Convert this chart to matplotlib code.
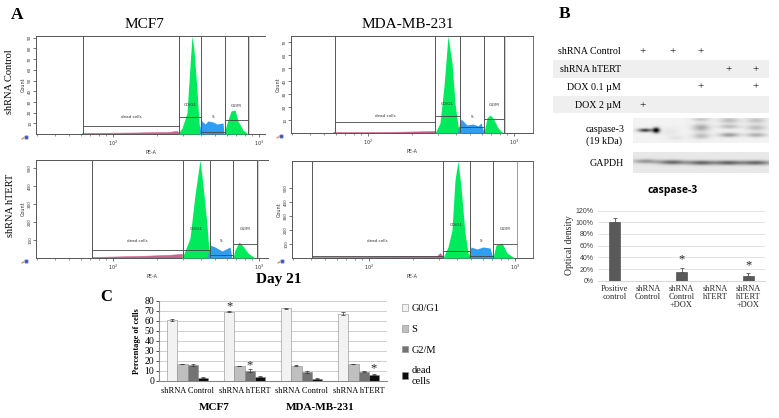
import numpy as np
import matplotlib
matplotlib.use('Agg')
import matplotlib.pyplot as plt
from matplotlib.patches import Rectangle

plt.rc('font', family='Liberation Serif')

W, H = 779, 418

# ---- panel A: flow cytometry histograms
# (x and y are in pixels from the lower left corner of each plot)
flow_names = ['mcf7_ctrl', 'mda_ctrl', 'mcf7_htert', 'mda_htert']
flow_boxes = {'mcf7_ctrl': (36, 36, 265, 134), 'mda_ctrl': (291, 36, 533, 133),
              'mcf7_htert': (36, 160, 268, 258), 'mda_htert': (292, 161, 533, 258)}
flow_yticks = {'mcf7_ctrl': [10, 20, 30, 40, 50, 60, 70, 80, 90], 'mda_ctrl': [10, 20, 30, 40, 50, 60, 70],
               'mcf7_htert': [100, 200, 300, 400, 500], 'mda_htert': [100, 200, 300, 400, 500]}
flow_ystep = {'mcf7_ctrl': 1.07, 'mda_ctrl': 1.3, 'mcf7_htert': 0.18, 'mda_htert': 0.14}

g1_x = {'mcf7_ctrl': [142, 146, 151, 154, 156, 158, 161, 163, 165],
        'mda_ctrl': [144, 149, 153, 157, 161, 164, 167, 170],
        'mcf7_htert': [146, 149, 154, 159, 164, 167, 171, 173, 175],
        'mda_htert': [151, 156, 160, 163, 166, 169, 173, 176, 178]}
g1_y = {'mcf7_ctrl': [0, 6, 21, 68, 98, 84, 44, 11, 0],
        'mda_ctrl': [0, 10, 47, 97, 70, 30, 7, 0],
        'mcf7_htert': [0, 7, 20, 63, 98, 73, 33, 7, 0],
        'mda_htert': [0, 11, 28, 78, 97, 71, 25, 5, 0]}
s_x = {'mcf7_ctrl': [163, 165, 169, 172, 177, 181, 187, 188],
       'mda_ctrl': [166, 170, 176, 182, 187, 190, 193],
       'mcf7_htert': [171, 174, 179, 186, 194, 196],
       'mda_htert': [176, 179, 185, 191, 198, 201]}
s_y = {'mcf7_ctrl': [0, 14, 10, 13, 12, 10, 11, 0],
       'mda_ctrl': [0, 14, 8, 9, 7, 10, 0],
       'mcf7_htert': [0, 13, 11, 7, 11, 0],
       'mda_htert': [0, 11, 9, 11, 10, 0]}
g2_x = {'mcf7_ctrl': [188, 191, 195, 199, 202, 207, 212],
        'mda_ctrl': [193, 196, 199, 202, 207, 212],
        'mcf7_htert': [197, 199, 203, 207, 212, 219],
        'mda_htert': [201, 204, 210, 215, 221, 222]}
g2_y = {'mcf7_ctrl': [0, 11, 23, 24, 13, 4, 0],
        'mda_ctrl': [0, 15, 18, 15, 5, 0],
        'mcf7_htert': [0, 8, 16, 12, 5, 0],
        'mda_htert': [0, 13, 15, 5, 1, 0]}
dead_x = {'mcf7_ctrl': [46, 97, 131, 141, 143],
          'mda_ctrl': [42, 90, 120, 144],
          'mcf7_htert': [56, 100, 130, 146],
          'mda_htert': [20, 90, 145, 148, 151]}
dead_y = {'mcf7_ctrl': [1, 1.5, 2, 3, 1],
          'mda_ctrl': [1, 1, 1.5, 2],
          'mcf7_htert': [1, 2, 3, 4],
          'mda_htert': [1, 1.5, 2, 5, 1]}
# gate edges: dead start, G0/G1 start, S start, G2/M start, G2/M end
gate_edges = {'mcf7_ctrl': [47, 143, 165, 188.5, 212],
              'mda_ctrl': [44, 144, 169, 193, 213],
              'mcf7_htert': [56, 147, 174, 197, 221],
              'mda_htert': [20, 151, 178, 201, 225]}
# height of the horizontal bar of dead, G0/G1, S, G2/M
gate_levels = {'mcf7_ctrl': [8, 17, 2, 14],
               'mda_ctrl': [11, 17, 6, 14],
               'mcf7_htert': [8, 8, 3, 14],
               'mda_htert': [2, 7, 2, 14]}
# height of the dead, G0/G1, S, G2/M labels
gate_text_y = {'mcf7_ctrl': [17, 29, 17, 28],
               'mda_ctrl': [17, 29, 16, 28],
               'mcf7_htert': [17, 29, 17, 29],
               'mda_htert': [17, 33, 17, 29]}
gate_names = ['dead cells', 'G0/G1', 'S', 'G2/M']
decade_labels = ['$10^2$', '$10^3$']
decade_pos = [77, 223]

# ---- panel B table and bars
table_rows = ['shRNA Control', 'shRNA hTERT', 'DOX 0.1 µM', 'DOX 2 µM']
table_marks = [[0, 1, 2], [3, 4], [2, 4], [0]]
od_labels = ['Positive\ncontrol', 'shRNA\nControl', 'shRNA\nControl\n+DOX', 'shRNA\nhTERT', 'shRNA\nhTERT\n+DOX']
od_values = [100, 0, 15, 0, 8]
od_errors = [8, 0, 6, 0, 5]
od_stars = [2, 4]
od_star_y = [37, 27]
od_ticks = [0, 20, 40, 60, 80, 100, 120]

# western blot bands: x, y, sigma x, sigma y, strength (pixels in the picture)
casp_bands = [(645, 130.5, 5, 1.2, .75), (656, 130.5, 2.5, 1.8, 1.0), (670, 132, 6, 3, .05), (676, 138, 6, 1.5, .06),
              (701, 120, 6, 1.5, .18), (701, 128, 6, 2.5, .3), (701, 136, 6, 2, .22),
              (729, 121, 7, 2, .22), (729, 127, 7, 1.5, .22), (729, 135, 7, 1.5, .35),
              (756, 121, 7, 2, .2), (756, 128, 7, 2, .22), (756, 135, 7, 1.5, .28)]
gapdh_bands = [(645, 161, 9, 1.5, .35), (672, 162, 10, 1.6, .55), (701, 162.5, 10, 1.6, .55),
               (728, 162.5, 10, 1.6, .55), (756, 162.5, 11, 1.6, .55)]

# ---- panel C
cell_groups = ['shRNA Control', 'shRNA hTERT', 'shRNA Control', 'shRNA hTERT']
phases = ['G0/G1', 'S', 'G2/M', 'dead\ncells']
g0_vals = [61.5, 69.5, 73, 67.5]
s_vals = [17, 15, 15.5, 17]
g2_vals = [16, 10.5, 9, 9.5]
dead_vals = [3.5, 4.5, 2.5, 6.5]
g0_err = [1, .8, .5, 1.2]
s_err = [.3, .3, .3, .3]
g2_err = [.6, 1.2, 1.2, .6]
dead_err = [.4, .9, .7, .4]
phase_colors = ['#f2f2f2', '#bfbfbf', '#737373', '#0d0d0d']
c_stars = [(1, 0, 75), (1, 2, 16), (3, 3, 13)]


def add_axes_px(fig, left, top, right, bottom):
    return fig.add_axes([left / W, 1 - bottom / H, (right - left) / W, (bottom - top) / H])


def plot_flow(fig, name):
    left, top, right, bottom = flow_boxes[name]
    ax = add_axes_px(fig, left, top, right, bottom)
    ax.fill_between(dead_x[name], dead_y[name], color='#c8648c', lw=0.4, zorder=2)
    ax.fill_between(g1_x[name], g1_y[name], color='#00ea5c', lw=0, zorder=3)
    ax.fill_between(s_x[name], s_y[name], color='#2f9df0', lw=0, zorder=4)
    ax.fill_between(g2_x[name], g2_y[name], color='#00ea5c', lw=0, zorder=3)

    e = gate_edges[name]
    lv = gate_levels[name]
    ax.vlines(e, 0, bottom - top, color='#555555', lw=0.7, zorder=5)
    ax.vlines(e[4] + 0.5, 0, bottom - top, color='#bbbbbb', lw=0.5, zorder=5)
    for i in range(4):
        ax.hlines(lv[i], e[i], e[i + 1], color='#444444', lw=0.6, zorder=5)
        mid = (e[i] + e[i + 1]) / 2
        ax.text(mid, gate_text_y[name][i], gate_names[i], fontsize=3, ha='center', va='center',
                family='DejaVu Sans', color='#333333', zorder=6)

    for s in ['top', 'left', 'bottom']:
        ax.spines[s].set_linewidth(0.7)
        ax.spines[s].set_color('#555555')
    ax.spines['right'].set_visible(name in ['mda_ctrl', 'mda_htert'])
    ax.spines['right'].set_linewidth(0.6)
    ax.spines['right'].set_color('#555555')

    ax.set_xticks(decade_pos)
    ax.set_xticklabels(decade_labels, fontsize=3.5, family='DejaVu Sans', color='#333333')
    minor = [decade_pos[0] + 146 * np.log10(k / 100) for k in [20, 30, 40, 50, 60, 70, 80, 90, 200, 300, 400, 500, 600, 700, 800, 900]]
    ax.set_xticks(minor, minor=True)
    ax.tick_params(axis='x', which='major', length=2.5, width=0.5, pad=1, color='#444444')
    ax.tick_params(axis='x', which='minor', length=1.2, width=0.4, color='#444444')
    yt = flow_yticks[name]
    ax.set_yticks([v * flow_ystep[name] for v in yt])
    ax.set_yticklabels([str(v) for v in yt], fontsize=3, rotation=90, va='center', family='DejaVu Sans', color='#333333')
    ax.tick_params(axis='y', length=2, width=0.5, pad=0.8, color='#444444')
    ax.set_xlabel('PE-A', fontsize=3.5, family='DejaVu Sans', labelpad=1.5, color='#333333')
    ax.set_ylabel('Count', fontsize=3.5, family='DejaVu Sans', labelpad=1.5, color='#333333')
    # ticks move the limits, so set them last
    ax.set_xlim(0, right - left)
    ax.set_ylim(0, bottom - top)
    return ax


def blot_image(ax, x0, x1, y0, y1, bg, bands):
    xs, ys = np.meshgrid(np.arange(x0, x1, 0.5), np.arange(y0, y1, 0.5))
    dark = np.zeros_like(xs, dtype=float)
    for bx, by, sx, sy, amp in bands:
        dark += amp * np.exp(-((xs - bx) / sx) ** 2 / 2 - ((ys - by) / sy) ** 2 / 2)
    img = np.clip(bg * (1 - np.clip(dark, 0, 1)), 0, 1)
    ax.imshow(img, cmap='gray', vmin=0, vmax=1, extent=(x0, x1, y1, y0), aspect='auto', interpolation='bilinear')
    ax.axis('off')


fig = plt.figure(figsize=(W / 100, H / 100), dpi=100)

# overlay in picture pixels for the loose text of the composite
over = fig.add_axes([0, 0, 1, 1], zorder=10)
over.set_xlim(0, W)
over.set_ylim(H, 0)
over.axis('off')
over.patch.set_alpha(0)


def label(x, y, s, size=7.2, ha='center', va='center', **kw):
    over.text(x, y, s, fontsize=size, ha=ha, va=va, **kw)


for name in flow_names:
    plot_flow(fig, name)
    left, top, right, bottom = flow_boxes[name]
    over.plot([left - 14, left - 11], [bottom + 5, bottom + 3], color='#e8762c', lw=0.8)
    over.scatter([left - 10], [bottom + 3], s=9, color='#3f55b5', edgecolor='#b9c0e0', lw=0.6, zorder=3)

label(17, 15, 'A', size=12.5, weight='bold')
label(565, 14, 'B', size=12.5, weight='bold')
label(106, 297, 'C', size=12, weight='bold')
label(144, 24, 'MCF7', size=11)
label(408, 24, 'MDA-MB-231', size=11)
label(10, 82, 'shRNA Control', size=7.5, rotation=90)
label(11, 205, 'shRNA hTERT', size=7.5, rotation=90)
label(279, 280, 'Day 21', size=11, weight='bold')

# panel B table
lane_x = [643, 673, 701, 729, 756]
row_y = [52, 70, 87, 106]
over.add_patch(Rectangle((553, 60), 216, 18, color='#efefef', lw=0, zorder=0))
over.add_patch(Rectangle((553, 96), 216, 17, color='#efefef', lw=0, zorder=0))
for i, row in enumerate(table_rows):
    label(621, row_y[i], row, ha='right')
    for j in table_marks[i]:
        label(lane_x[j], row_y[i], '+', size=8)
label(586, 129, 'caspase-3', ha='left')
label(586, 141, '(19 kDa)', ha='left')
label(607, 163, 'GAPDH')

blot1 = add_axes_px(fig, 633, 118, 769, 143)
blot_image(blot1, 633, 769, 118, 143, 0.95, casp_bands)
blot2 = add_axes_px(fig, 633, 152, 769, 173)
blot_image(blot2, 633, 769, 152, 173, 0.91, gapdh_bands)

# panel B bars
axb = add_axes_px(fig, 598, 210.5, 765, 280.7)
xb = np.arange(len(od_labels))
axb.bar(xb, od_values, width=0.33, color='#595959', edgecolor='#404040', lw=0.4, zorder=3)
axb.errorbar(xb[[0, 2, 4]], np.array(od_values)[[0, 2, 4]], yerr=[[0, 0, 0], np.array(od_errors)[[0, 2, 4]]],
             fmt='none', ecolor='#555555', elinewidth=0.6, capsize=1.2, capthick=0.6, zorder=4)
axb.set_xlim(-0.5, 4.5)
axb.set_ylim(0, 120)
axb.set_yticks(od_ticks)
axb.set_yticklabels([f'{v}%' for v in od_ticks], fontsize=5, family='Liberation Sans', color='#404040')
axb.set_xticks(xb)
axb.set_xticklabels(od_labels, fontsize=6, linespacing=1.05, color='#262626')
axb.tick_params(length=0, pad=3)
axb.grid(axis='y', color='#e3e3e3', lw=0.7, zorder=0)
axb.set_axisbelow(True)
for s in ['top', 'right', 'left']:
    axb.spines[s].set_visible(False)
axb.spines['bottom'].set_color('#d9d9d9')
axb.set_ylabel('Optical density', fontsize=7, labelpad=1.5, color='#262626')
for k, ys in zip(od_stars, od_star_y):
    axb.text(k, ys, '*', fontsize=9, ha='center', va='center', color='#222222')
label(673, 191, 'caspase-3', size=7.5, weight='bold', family='Open Sans')

# panel C bars
axc = add_axes_px(fig, 159, 301, 387, 381)
series = [g0_vals, s_vals, g2_vals, dead_vals]
errs = [g0_err, s_err, g2_err, dead_err]
bw = 0.18
xc = np.arange(4)
handles = []
for j in range(4):
    bars = axc.bar(xc + (j - 1.5) * bw, series[j], bw, color=phase_colors[j], edgecolor='#8c8c8c', lw=0.4, zorder=3, label=phases[j])
    axc.errorbar(xc + (j - 1.5) * bw, series[j], yerr=errs[j], fmt='none', ecolor='#333333',
                 elinewidth=0.5, capsize=1.2, capthick=0.5, zorder=4)
    handles.append(bars)
axc.set_xlim(-0.5, 3.5)
axc.set_ylim(0, 80)
axc.set_yticks(range(0, 81, 10))
axc.tick_params(axis='y', labelsize=7, length=2, width=0.5, pad=1.5)
axc.set_xticks(xc)
axc.set_xticklabels(cell_groups, fontsize=6)
axc.tick_params(axis='x', length=0, pad=4)
axc.grid(axis='y', color='#cfcfcf', lw=0.7, zorder=0)
axc.set_axisbelow(True)
for s in ['top', 'right']:
    axc.spines[s].set_visible(False)
axc.spines['left'].set_color('#888888')
axc.spines['bottom'].set_color('#888888')
axc.set_ylabel('Percentage of cells', fontsize=6, weight='bold', labelpad=2)
for g, ph, ys in c_stars:
    axc.text(g + (ph - 1.5) * bw, ys, '*', fontsize=9, ha='center', va='center', color='#222222')
axc.legend(handles=handles, loc='upper left', bbox_to_anchor=(1.065, 0.96), frameon=False, fontsize=7.5,
           labelspacing=1.12, handlelength=0.6, handleheight=0.6, handletextpad=0.3, borderaxespad=0, borderpad=0)
label(214, 407, 'MCF7', size=8, weight='bold')
label(320, 407, 'MDA-MB-231', size=8, weight='bold')

fig.savefig('out.png', dpi=100)
